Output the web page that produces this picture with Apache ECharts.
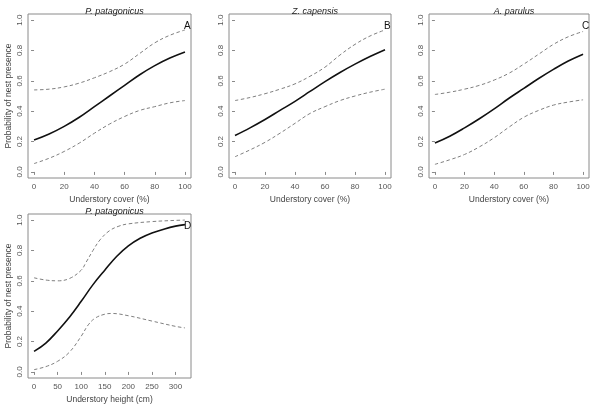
<!DOCTYPE html>
<html><head><meta charset="utf-8">
<script src="https://cdn.jsdelivr.net/npm/echarts@6/dist/echarts.min.js"></script>
<style>html,body{margin:0;padding:0;background:#fff}#c{width:600px;height:406px}</style>
</head><body><div id="c"></div>
<script>
// ---- data ----
const coverX = [0,10,20,30,40,50,60,70,80,90,100];
const aFit   = [0.21,0.25,0.30,0.36,0.43,0.50,0.57,0.64,0.70,0.75,0.79];
const aUpper = [0.54,0.545,0.56,0.585,0.62,0.66,0.71,0.78,0.85,0.90,0.935];
const aLower = [0.055,0.09,0.135,0.19,0.255,0.315,0.365,0.405,0.43,0.455,0.47];

const bFit   = [0.24,0.29,0.345,0.405,0.465,0.53,0.595,0.655,0.71,0.76,0.805];
const bUpper = [0.47,0.49,0.515,0.545,0.58,0.63,0.69,0.77,0.84,0.895,0.935];
const bLower = [0.10,0.145,0.195,0.255,0.32,0.385,0.43,0.47,0.50,0.525,0.545];

const cFit   = [0.19,0.235,0.29,0.35,0.415,0.485,0.55,0.615,0.675,0.73,0.775];
const cUpper = [0.51,0.525,0.545,0.57,0.605,0.65,0.71,0.775,0.84,0.89,0.925];
const cLower = [0.05,0.08,0.115,0.165,0.225,0.295,0.36,0.405,0.44,0.46,0.475];

const dFitX   = [0,25,50,75,100,125,150,175,200,225,250,275,300,320];
const dFit    = [0.135,0.19,0.27,0.36,0.465,0.575,0.67,0.76,0.83,0.88,0.915,0.94,0.96,0.97];
const dUpperX = [0,25,50,75,100,110,125,140,160,180,200,250,300,320];
const dUpper  = [0.62,0.605,0.60,0.615,0.67,0.72,0.80,0.87,0.93,0.96,0.975,0.99,0.998,1.0];
const dLowerX = [0,25,50,75,100,115,130,150,165,200,250,300,320];
const dLower  = [0.015,0.035,0.07,0.13,0.235,0.31,0.355,0.38,0.385,0.37,0.335,0.30,0.29];

const coverTicks  = [0,20,40,60,80,100];
const heightTicks = [0,50,100,150,200,250,300];
const probTicks   = [0,0.2,0.4,0.6,0.8,1.0];

const titles  = ['P. patagonicus','Z. capensis','A. parulus','P. patagonicus'];
const letters = ['A','B','C','D'];
const xNames  = ['Understory cover (%)','Understory cover (%)','Understory cover (%)','Understory height (cm)'];
const yName   = 'Probability of nest presence';

// ---- layout ----
const boxes = [
  {left:28, top:14, width:163, height:164},
  {left:229, top:14, width:162, height:164},
  {left:429, top:14, width:160, height:164},
  {left:28, top:214, width:163, height:164}
];
const pair = (xs, ys) => xs.map((x,i)=>[x, ys[i]]);
const panels = [
  {fit:pair(coverX,aFit), up:pair(coverX,aUpper), lo:pair(coverX,aLower), ticks:coverTicks, min:-4, max:104},
  {fit:pair(coverX,bFit), up:pair(coverX,bUpper), lo:pair(coverX,bLower), ticks:coverTicks, min:-4, max:104},
  {fit:pair(coverX,cFit), up:pair(coverX,cUpper), lo:pair(coverX,cLower), ticks:coverTicks, min:-4, max:104},
  {fit:pair(dFitX,dFit), up:pair(dUpperX,dUpper), lo:pair(dLowerX,dLower), ticks:heightTicks, min:-12.8, max:332.8}
];

const FONT = 'Liberation Sans, Arial, sans-serif';
const grid=[], xAxis=[], yAxis=[], series=[], title=[];
panels.forEach((p,i)=>{
  const b = boxes[i];
  grid.push(Object.assign({show:true, borderColor:'#8a8a8a', borderWidth:1, backgroundColor:'transparent'}, b));
  xAxis.push({
    type:'value', gridIndex:i, min:p.min, max:p.max,
    axisLine:{show:false}, splitLine:{show:false},
    axisTick:{show:true, customValues:p.ticks, length:3, lineStyle:{color:'#8a8a8a'}},
    axisLabel:{customValues:p.ticks, fontSize:8, color:'#555', fontFamily:FONT, margin:5},
    name:xNames[i], nameLocation:'middle', nameGap:17,
    nameTextStyle:{fontSize:8.5, color:'#444', fontFamily:FONT}
  });
  yAxis.push({
    type:'value', gridIndex:i, min:-0.04, max:1.04,
    axisLine:{show:false}, splitLine:{show:false},
    axisTick:{show:true, customValues:probTicks, length:3, lineStyle:{color:'#8a8a8a'}},
    axisLabel:{customValues:probTicks, fontSize:8, color:'#555', fontFamily:FONT, margin:4, rotate:90,
      formatter:v=>v.toFixed(1)},
    name:(i===0||i===3)?yName:'', nameLocation:'middle', nameGap:15,
    nameTextStyle:{fontSize:8.5, color:'#444', fontFamily:FONT}
  });
  const common = {type:'line', xAxisIndex:i, yAxisIndex:i, showSymbol:false, smooth:0.4, silent:true};
  series.push(Object.assign({data:p.up, lineStyle:{color:'#808080', width:1, type:[3.5,2.5]}}, common));
  series.push(Object.assign({data:p.lo, lineStyle:{color:'#808080', width:1, type:[3.5,2.5]}}, common));
  series.push(Object.assign({data:p.fit, lineStyle:{color:'#111', width:1.6}}, common));
  title.push({text:titles[i], left:b.left + b.width/2, top:b.top-12, textAlign:'center',
    textStyle:{fontSize:9, fontStyle:'italic', fontWeight:'normal', color:'#222', fontFamily:FONT}});
  title.push({text:letters[i], left:b.left + b.width - 12, top:b.top+2,
    textStyle:{fontSize:10, fontWeight:'normal', color:'#111', fontFamily:FONT}});
});

const chart = echarts.init(document.getElementById('c'), null, {renderer:'canvas'});
chart.setOption({animation:false, backgroundColor:'#fff', grid, xAxis, yAxis, series, title});
</script></body></html>
